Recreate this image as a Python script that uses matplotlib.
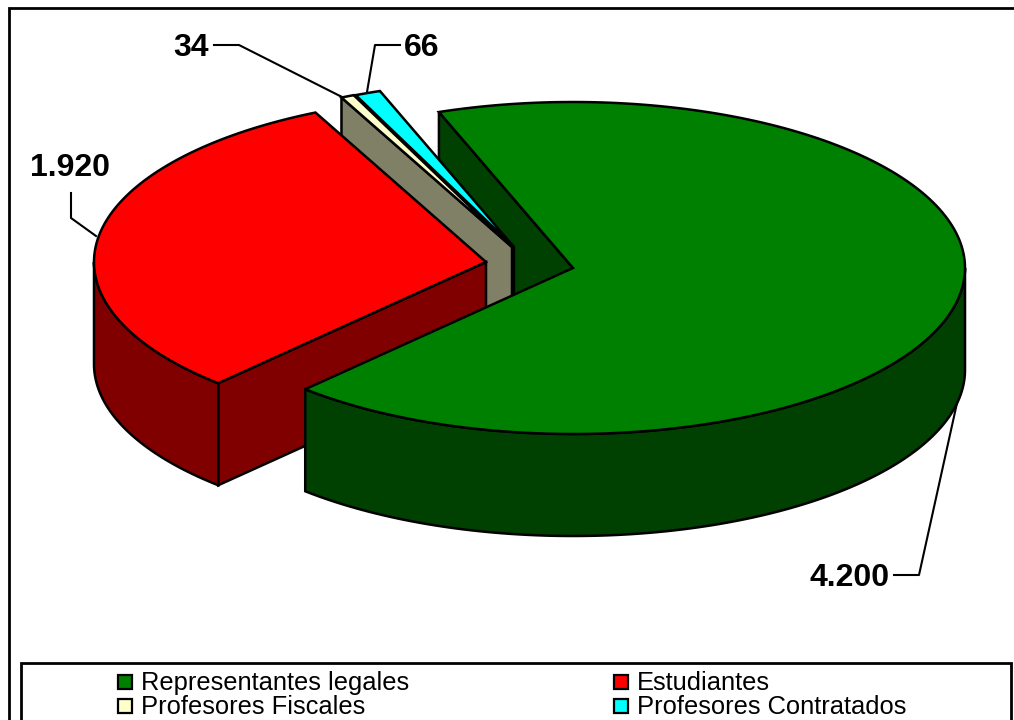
import numpy as np
import matplotlib
matplotlib.use('Agg')
import matplotlib.pyplot as plt
from matplotlib.patches import Polygon, Rectangle

categories = ['Representantes legales', 'Estudiantes', 'Profesores Fiscales', 'Profesores Contratados']
values = [4200, 1920, 34, 66]
value_labels = ['4.200', '1.920', '34', '66']
top_colors = ['#008000', '#FF0000', '#FFFFCC', '#00FFFF']
side_colors = ['#004000', '#800000', '#808066', '#008080']

# apex of each slice in pixels, and pie shape
apex = [(573, 268), (486, 262), (512, 247), (514, 247)]
rx, ry, depth = 392, 166, 102
start = 110.0

plt.rcParams['font.family'] = ['Liberation Sans', 'DejaVu Sans']
fig = plt.figure(figsize=(10.14, 7.2), dpi=100)
ax = fig.add_axes([0, 0, 1, 1])
ax.set_xlim(0, 1014)
ax.set_ylim(720, 0)
ax.axis('off')

# sweep clockwise (in the picture's ellipse parameter) from the start angle
ang = {}
a = start
order = [0, 1, 2, 3]
for i in order:
    sweep = values[i] / sum(values) * 360
    ang[i] = (a, a - sweep)
    a -= sweep


def arc(i, t0, t1, n=200):
    t = np.radians(np.linspace(t0, t1, n))
    return apex[i][0] + rx * np.cos(t), apex[i][1] - ry * np.sin(t)


def top(i, z):
    x, y = arc(i, ang[i][0], ang[i][1])
    pts = np.vstack([[apex[i]], np.column_stack([x, y])])
    ax.add_patch(Polygon(pts, closed=True, fc=top_colors[i], ec='black', lw=1.8, zorder=z, joinstyle='miter'))


def cut_wall(i, t, z):
    # flat face from apex out to the rim at angle t
    x, y = arc(i, t, t, 1)
    pts = [apex[i], (x[0], y[0]), (x[0], y[0] + depth), (apex[i][0], apex[i][1] + depth)]
    ax.add_patch(Polygon(pts, closed=True, fc=side_colors[i], ec='black', lw=1.8, zorder=z))


def rim_wall(i, t0, t1, z):
    x, y = arc(i, t0, t1)
    pts = np.vstack([np.column_stack([x, y]), np.column_stack([x, y + depth])[::-1]])
    ax.add_patch(Polygon(pts, closed=True, fc=side_colors[i], ec='black', lw=1.8, zorder=z))


# outer frame runs off the right and bottom of the picture
ax.add_patch(Rectangle((9, 8), 1100, 800, fc='white', ec='black', lw=2, zorder=0))

cut_wall(0, ang[0][0], 1)
cut_wall(3, ang[3][0], 2)
top(3, 3)
cut_wall(2, ang[2][0], 4)
top(2, 5)
cut_wall(1, ang[1][0], 6)
rim_wall(1, ang[1][0], -180, 6)
top(1, 7)
rim_wall(0, ang[0][1], 0, 8)
top(0, 9)

# leader lines and value labels
ax.plot([894, 919, 957], [575, 575, 403], color='black', lw=1.5, zorder=10)
ax.plot([71, 71, 96], [193, 218, 236], color='black', lw=1.5, zorder=10)
ax.plot([214, 239, 342], [45, 45, 97], color='black', lw=1.5, zorder=10)
ax.plot([400, 375, 367], [45, 45, 92], color='black', lw=1.5, zorder=10)
ax.text(850, 578, value_labels[0], fontsize=23, fontweight='bold', ha='center', va='center', zorder=11)
ax.text(70, 168, value_labels[1], fontsize=23, fontweight='bold', ha='center', va='center', zorder=11)
ax.text(191, 48, value_labels[2], fontsize=23, fontweight='bold', ha='center', va='center', zorder=11)
ax.text(422, 48, value_labels[3], fontsize=23, fontweight='bold', ha='center', va='center', zorder=11)

# legend box runs off the bottom of the picture
ax.add_patch(Rectangle((21, 663), 990, 100, fc='white', ec='black', lw=2, zorder=12))
leg_x = [118, 614, 118, 614]
leg_y = [682, 682, 706, 706]
for i in order:
    ax.add_patch(Rectangle((leg_x[i], leg_y[i] - 7), 14, 14, fc=top_colors[i], ec='black', lw=1.6, zorder=13))
    ax.text(leg_x[i] + 23, leg_y[i] + 1, categories[i], fontsize=18.4, ha='left', va='center', zorder=13)

fig.savefig('out.png', dpi=100)
